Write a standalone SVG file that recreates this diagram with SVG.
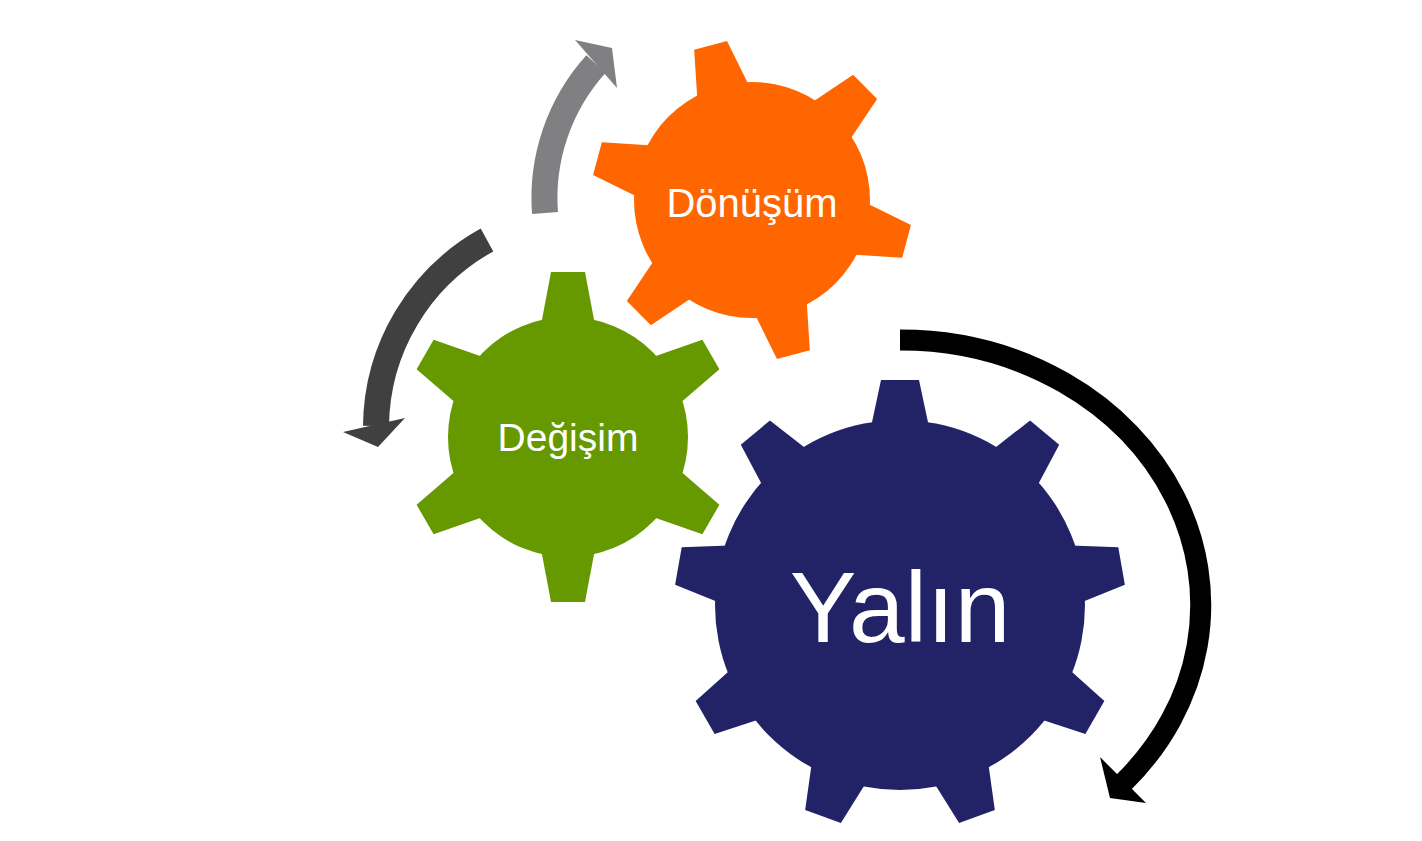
<svg xmlns="http://www.w3.org/2000/svg" width="1422" height="841" viewBox="0 0 1422 841">
<style>
text{font-family:"Liberation Sans",Arial,sans-serif;fill:#fff;text-anchor:middle}
.arc{fill:none}
</style>
<defs>
<polygon id="tBig" points="-29,-178 -19,-225 19,-225 29,-178"/>
<polygon id="tG" points="-27,-112 -17,-165 17,-165 27,-112"/>
<polygon id="tO" points="-27,-110 -17,-160 17,-160 27,-110"/>
</defs>
<g id="connectors">
<path class="arc" stroke="#000" stroke-width="21" d="M900,340 A300,265 0 0 1 1124,782"/>
<polygon fill="#000" points="1100,757 1110,798 1146,803"/>
<path class="arc" stroke="#404040" stroke-width="26" d="M487,240 A215,215 0 0 0 376,426"/>
<polygon fill="#404040" points="343,432 378,447 405,418"/>
<path class="arc" stroke="#808083" stroke-width="26" d="M545,213 A200,200 0 0 1 596,64"/>
<polygon fill="#808083" points="575,40 612,48 617,88"/>
</g>
<g id="gear-donusum" fill="#FF6600" transform="translate(752,200)">
<circle r="118"/>
<use href="#tO" transform="rotate(-15)"/><use href="#tO" transform="rotate(45)"/><use href="#tO" transform="rotate(105)"/>
<use href="#tO" transform="rotate(165)"/><use href="#tO" transform="rotate(225)"/><use href="#tO" transform="rotate(285)"/>
<text x="0" y="17" font-size="40">Dönüşüm</text>
</g>
<g id="gear-degisim" fill="#669900" transform="translate(568,437)">
<circle r="120"/>
<use href="#tG"/><use href="#tG" transform="rotate(60)"/><use href="#tG" transform="rotate(120)"/>
<use href="#tG" transform="rotate(180)"/><use href="#tG" transform="rotate(240)"/><use href="#tG" transform="rotate(300)"/>
<text x="0" y="14" font-size="39">Değişim</text>
</g>
<g id="gear-yalin" fill="#222266" transform="translate(900,605)">
<circle r="185"/>
<use href="#tBig"/><use href="#tBig" transform="rotate(40)"/><use href="#tBig" transform="rotate(80)"/>
<use href="#tBig" transform="rotate(120)"/><use href="#tBig" transform="rotate(160)"/><use href="#tBig" transform="rotate(200)"/>
<use href="#tBig" transform="rotate(240)"/><use href="#tBig" transform="rotate(280)"/><use href="#tBig" transform="rotate(320)"/>
<text x="0" y="37" font-size="100">Yalın</text>
</g>
</svg>
